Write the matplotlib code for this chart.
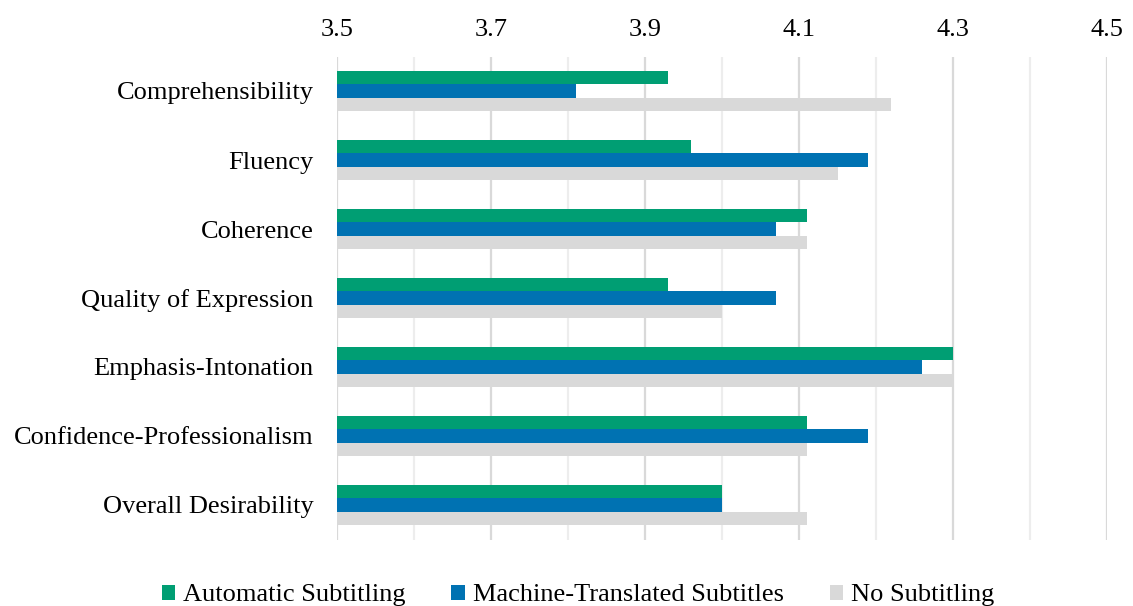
import numpy as np
import matplotlib.pyplot as plt
from matplotlib.ticker import MultipleLocator

categories = ["Comprehensibility", "Fluency", "Coherence", "Quality of Expression",
              "Emphasis-Intonation", "Confidence-Professionalism", "Overall Desirability"]
automatic = [3.93, 3.96, 4.11, 3.93, 4.30, 4.11, 4.00]
machine = [3.81, 4.19, 4.07, 4.07, 4.26, 4.19, 4.00]
none_sub = [4.22, 4.15, 4.11, 4.00, 4.30, 4.11, 4.11]
series_names = ["Automatic Subtitling", "Machine-Translated Subtitles", "No Subtitling"]
colors = ["#009E73", "#0072B2", "#D9D9D9"]
xticks = [3.5, 3.7, 3.9, 4.1, 4.3, 4.5]

plt.rcParams['font.family'] = ['Liberation Serif', 'DejaVu Serif']

fig = plt.figure(figsize=(11.33, 6.06), dpi=100)
ax = fig.add_axes([337/1133, 1 - 539.5/606, 770/1133, 483/606])

y = np.arange(len(categories))
h = 0.19
for i, (vals, name, c) in enumerate(zip([automatic, machine, none_sub], series_names, colors)):
    ax.barh(y + (i - 1) * h, np.array(vals) - 3.5, left=3.5, height=h,
            color=c, label=name, zorder=3)

ax.set_xlim(3.5, 4.5)
ax.set_ylim(len(categories) - 0.5, -0.5)
ax.set_yticks(y)
ax.set_yticklabels(categories, fontsize=19)
ax.set_xticks(xticks)
ax.set_xticklabels([f"{t:.1f}" for t in xticks], fontsize=19)
ax.xaxis.set_minor_locator(MultipleLocator(0.1))
ax.xaxis.tick_top()
ax.tick_params(axis='both', which='both', length=0)
ax.tick_params(axis='x', pad=11)
ax.tick_params(axis='y', pad=17)
ax.grid(axis='x', which='major', color='#D9D9D9', linewidth=1.6, zorder=0)
ax.grid(axis='x', which='minor', color='#EDEDED', linewidth=1.6, zorder=0)
for s in ax.spines.values():
    s.set_visible(False)

fig.legend(loc='lower center', ncol=3, frameon=False, fontsize=19,
           bbox_to_anchor=(0.51, -0.04), handlelength=0.5, handleheight=0.5,
           handletextpad=0.3, columnspacing=1.75)

fig.savefig("out.png", dpi=100)
